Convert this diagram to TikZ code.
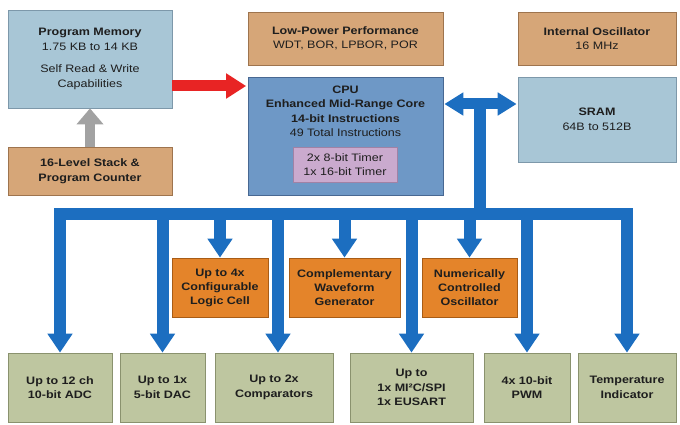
\documentclass[tikz,border=0pt]{standalone}
\usepackage{fontspec}
\setmainfont[FakeStretch=1.16]{Liberation Sans}
\usetikzlibrary{arrows.meta,shadows}
\definecolor{pmblue}{RGB}{168,198,214}
\definecolor{pmborder}{RGB}{125,152,170}
\definecolor{cpublue}{RGB}{110,152,198}
\definecolor{cpuborder}{RGB}{72,104,146}
\definecolor{timerc}{RGB}{202,170,206}
\definecolor{timerborder}{RGB}{160,130,165}
\definecolor{tanc}{RGB}{214,166,120}
\definecolor{tanborder}{RGB}{158,116,78}
\definecolor{orangec}{RGB}{228,132,42}
\definecolor{orangeborder}{RGB}{168,92,22}
\definecolor{greenc}{RGB}{190,198,160}
\definecolor{greenborder}{RGB}{138,146,110}
\definecolor{busblue}{RGB}{28,110,192}
\definecolor{redc}{RGB}{232,36,36}
\definecolor{greyc}{RGB}{162,162,162}
\definecolor{txtc}{RGB}{30,30,30}
\begin{document}
\begin{tikzpicture}[x=1pt,y=-1pt,
  font=\fontsize{10.8}{14.5}\selectfont,
  blk/.style={rectangle, inner sep=0pt, align=center, text=txtc, line width=0.7pt,
    drop shadow={shadow xshift=1.2pt, shadow yshift=-1.2pt, opacity=0.3}},
  pmbox/.style={blk, fill=pmblue, draw=pmborder},
  cpubox/.style={blk, fill=cpublue, draw=cpuborder},
  timerbox/.style={blk, fill=timerc, draw=timerborder},
  tanbox/.style={blk, fill=tanc, draw=tanborder},
  orbox/.style={blk, fill=orangec, draw=orangeborder, font=\fontsize{10.8}{14}\selectfont\bfseries},
  grbox/.style={blk, fill=greenc, draw=greenborder, font=\fontsize{10.8}{14.5}\selectfont\bfseries},
  bus/.style={draw=busblue, line width=12pt},
  bt/.tip={Triangle[width=24pt,length=19pt]},
  dt/.tip={Triangle[width=22pt,length=19pt]},
  rt/.tip={Triangle[width=24pt,length=20pt]},
  gt/.tip={Triangle[width=26pt,length=16pt]}
]
\useasboundingbox (0,0) rectangle (680,425);

% top-left
\node[pmbox, minimum width=164pt, minimum height=98pt] (pm) at (90,59)
  {\textbf{Program Memory}\\1.75 KB to 14 KB\\[8pt]Self Read \& Write\\Capabilities};
\node[tanbox, minimum width=164pt, minimum height=48pt, font=\fontsize{10.8}{14.5}\selectfont\bfseries] (stack) at (90,171)
  {16-Level Stack \&\\Program Counter};

% middle column
\node[tanbox, minimum width=195pt, minimum height=53pt] (lp) at (345.5,38.5)
  {\textbf{Low-Power Performance}\\WDT, BOR, LPBOR, POR};
\node[cpubox, minimum width=195pt, minimum height=118pt] (cpu) at (345.5,136) {};
\node[inner sep=0pt, align=center, text=txtc, anchor=north] (cputext) at (345.5,85.3)
  {\textbf{CPU}\\\textbf{Enhanced Mid-Range Core}\\\textbf{14-bit Instructions}\\49 Total Instructions};
\node[timerbox, minimum width=104pt, minimum height=35pt, font=\fontsize{10.8}{14}\selectfont] (timer) at (345,164.5)
  {2x 8-bit Timer\\1x 16-bit Timer};

% right column
\node[tanbox, minimum width=158pt, minimum height=53pt] (osc) at (597,38.5)
  {\textbf{Internal Oscillator}\\16 MHz};
\node[pmbox, minimum width=158pt, minimum height=85pt] (sram) at (597,119.5)
  {\textbf{SRAM}\\64B to 512B};

% orange peripherals
\node[orbox, minimum width=96pt, minimum height=59pt] (clc) at (220,287.5)
  {Up to 4x\\Configurable\\Logic Cell};
\node[orbox, minimum width=111pt, minimum height=59pt] (cwg) at (344.5,287.5)
  {Complementary\\Waveform\\Generator};
\node[orbox, minimum width=95pt, minimum height=59pt] (nco) at (469.5,287.5)
  {Numerically\\Controlled\\Oscillator};

% bottom peripherals
\node[grbox, minimum width=104pt, minimum height=69pt] (adc) at (60,387.5) {Up to 12 ch\\10-bit ADC};
\node[grbox, minimum width=85pt, minimum height=69pt] (dac) at (162.5,387.5) {Up to 1x\\5-bit DAC};
\node[grbox, minimum width=118pt, minimum height=69pt] (cmp) at (274,387.5) {Up to 2x\\Comparators};
\node[grbox, minimum width=123pt, minimum height=69pt] (com) at (411.5,387.5) {Up to\\1x MI²C/SPI\\1x EUSART};
\node[grbox, minimum width=86pt, minimum height=69pt] (pwm) at (527,387.5) {4x 10-bit\\PWM};
\node[grbox, minimum width=98pt, minimum height=69pt] (temp) at (627,387.5) {Temperature\\Indicator};

% red and grey arrows
\draw[draw=redc, line width=11pt, -{rt[fill=redc]}, shorten >=1.5pt] (pm.east |- 0,86) -- (cpu.west |- 0,86);
\draw[draw=greyc, line width=10pt, -{gt[fill=greyc]}] (stack.north) -- (pm.south);

% bus
\coordinate (bL) at (60,214);
\coordinate (rtop) at (480,104);
\coordinate (rbot) at (480,214);
\draw[bus, {bt}-{bt}] (adc.north) -- (adc.north |- bL) -- (temp.north |- bL) -- (temp.north);
\draw[bus, -{bt}] (dac.north |- bL) -- (dac.north);
\draw[bus, -{bt}] ([xshift=4pt]cmp.north |- bL) -- ([xshift=4pt]cmp.north);
\draw[bus, -{bt}] (com.north |- bL) -- (com.north);
\draw[bus, -{bt}] (pwm.north |- bL) -- (pwm.north);
\draw[bus, -{bt}] (clc.north |- bL) -- (clc.north);
\draw[bus, -{bt}] (cwg.north |- bL) -- (cwg.north);
\draw[bus, -{bt}] (nco.north |- bL) -- (nco.north);
\draw[bus] (rbot) -- (rtop);
\draw[bus, line width=11pt, {dt}-{dt}, shorten <=1pt, shorten >=1pt] (cpu.east |- rtop) -- (sram.west |- rtop);
\end{tikzpicture}
\end{document}
